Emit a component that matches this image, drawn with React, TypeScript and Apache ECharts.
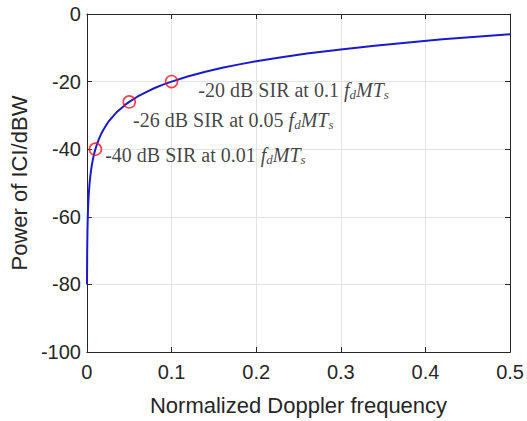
import React, { useEffect, useRef } from "react";
import * as echarts from "echarts";

const curveX = [0.0001, 0.0003, 0.0006, 0.001, 0.0015, 0.002, 0.003, 0.004, 0.005, 0.006, 0.007, 0.008, 0.009, 0.01, 0.012, 0.014, 0.016, 0.018, 0.02, 0.025, 0.03, 0.035, 0.04, 0.045, 0.05, 0.06, 0.07, 0.08, 0.09, 0.1, 0.12, 0.14, 0.16, 0.18, 0.2, 0.23, 0.26, 0.3, 0.34, 0.38, 0.42, 0.46, 0.5];
const curveY = [-80, -70.5, -64.4, -60, -56.5, -54, -50.5, -48, -46, -44.4, -43.1, -41.9, -40.9, -40, -38.4, -37.1, -35.9, -34.9, -34, -32, -30.5, -29.1, -28, -26.9, -26, -24.4, -23.1, -21.9, -20.9, -20, -18.4, -17.1, -15.9, -14.9, -14, -12.8, -11.7, -10.5, -9.4, -8.4, -7.5, -6.7, -6];

const markX = [0.1, 0.05, 0.01];
const markY = [-20, -26, -40];
const markText = ["-20 dB SIR at 0.1", "-26 dB SIR at 0.05", "-40 dB SIR at 0.01"];
const xTicks = [0, 0.1, 0.2, 0.3, 0.4, 0.5];
const yTicks = [-100, -80, -60, -40, -20, 0];

export default function App() {
  const ref = useRef<HTMLDivElement>(null);
  useEffect(() => {
    const chart = echarts.init(ref.current!, null, { renderer: "svg" });
    const labelOffsets = [[15, 8], [-8, 18], [-2, 6]];
    const serif = "Liberation Serif";
    const rich = {
      n: { fontFamily: serif, fontSize: 20, color: "#111111" },
      i: { fontFamily: serif, fontSize: 20, fontStyle: "italic", color: "#111111" },
      s: { fontFamily: serif, fontSize: 13, fontStyle: "italic", color: "#111111", padding: [9, 0, 0, 0] },
    };
    const axisCommon = {
      type: "value",
      axisLine: { show: true, onZero: false, lineStyle: { color: "#262626", width: 1 } },
      axisTick: { show: true, inside: true, length: 5, lineStyle: { color: "#262626" } },
    };
    chart.setOption({
      animation: false,
      grid: { left: 84, right: 14, top: 14, bottom: 65 },
      xAxis: [
        {
          ...axisCommon,
          min: 0,
          max: 0.5,
          interval: 0.1,
          position: "bottom",
          name: "Normalized Doppler frequency",
          nameLocation: "middle",
          nameGap: 42,
          nameTextStyle: { fontFamily: "Liberation Sans", fontSize: 22, color: "#262626" },
          axisLabel: {
            fontFamily: "Liberation Sans",
            fontSize: 20,
            color: "#262626",
            margin: 10,
            formatter: (v: number) => (xTicks.includes(Math.round(v * 10) / 10) ? String(Math.round(v * 10) / 10) : ""),
          },
          splitLine: { show: true, lineStyle: { color: "#e3e3e3", width: 1 } },
        },
        {
          ...axisCommon,
          min: 0,
          max: 0.5,
          interval: 0.1,
          position: "top",
          axisLabel: { show: false },
          splitLine: { show: false },
        },
      ],
      yAxis: [
        {
          ...axisCommon,
          min: -100,
          max: 0,
          interval: 20,
          position: "left",
          name: "Power of ICI/dBW",
          nameLocation: "middle",
          nameGap: 51,
          nameTextStyle: { fontFamily: "Liberation Sans", fontSize: 22, color: "#262626" },
          axisLabel: {
            fontFamily: "Liberation Sans",
            fontSize: 20,
            color: "#262626",
            margin: 6,
            formatter: (v: number) => (yTicks.includes(v) ? String(v) : ""),
          },
          splitLine: { show: true, lineStyle: { color: "#e3e3e3", width: 1 } },
        },
        {
          ...axisCommon,
          min: -100,
          max: 0,
          interval: 20,
          position: "right",
          axisLabel: { show: false },
          splitLine: { show: false },
        },
      ],
      series: [
        {
          type: "line",
          data: curveX.map((x, i) => [x, curveY[i]]),
          showSymbol: false,
          smooth: false,
          lineStyle: { color: "#1a1acc", width: 2 },
          z: 2,
        },
        {
          type: "scatter",
          symbol: "circle",
          symbolSize: 12,
          itemStyle: { color: "transparent", borderColor: "#e8141e", borderWidth: 1.6 },
          data: markX.map((x, i) => ({
            value: [x, markY[i]],
            label: {
              show: true,
              position: "right",
              offset: labelOffsets[i],
              formatter: `{n|${markText[i]} }{i|f}{s|d}{i|MT}{s|s}`,
              rich,
            },
          })),
          z: 3,
        },
      ],
    });
    return () => chart.dispose();
  }, []);
  return <div ref={ref} style={{ width: 527, height: 421, position: "absolute", left: 0, top: 0 }} />;
}
